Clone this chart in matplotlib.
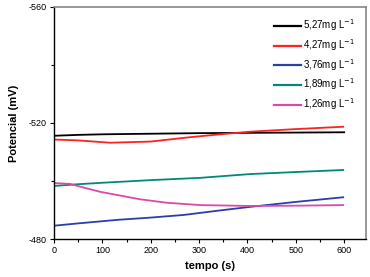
import matplotlib
matplotlib.use("Agg")
import matplotlib.pyplot as plt
from matplotlib.ticker import MultipleLocator

plt.rcParams['font.family'] = ['Liberation Sans', 'DejaVu Sans']
plt.rcParams['axes.unicode_minus'] = False

labels = ["5,27mg L$^{-1}$", "4,27mg L$^{-1}$", "3,76mg L$^{-1}$", "1,89mg L$^{-1}$", "1,26mg L$^{-1}$"]
colors = ["#000000", "#ff2020", "#2a3fa8", "#00897b", "#dc4aa8"]

t_black = [0, 50, 100, 200, 300, 400, 500, 600]
v_black = [-515.6, -515.9, -516.1, -516.3, -516.5, -516.6, -516.7, -516.8]

t_red = [0, 50, 116, 200, 281, 350, 406, 500, 598]
v_red = [-514.3, -514.0, -513.2, -513.6, -515.1, -516.2, -517.0, -517.9, -518.7]

t_blue = [0, 50, 130, 200, 268, 340, 406, 500, 598]
v_blue = [-484.6, -485.4, -486.6, -487.4, -488.3, -489.8, -491.1, -492.8, -494.4]

t_teal = [0, 50, 100, 199, 303, 406, 500, 598]
v_teal = [-498.3, -498.9, -499.4, -500.3, -501.1, -502.4, -503.1, -503.8]

t_pink = [0, 33, 60, 95, 130, 178, 234, 303, 406, 500, 598]
v_pink = [-499.3, -499.0, -497.8, -496.3, -495.2, -493.7, -492.5, -491.7, -491.4, -491.5, -491.7]

series = [(t_black, v_black), (t_red, v_red), (t_blue, v_blue), (t_teal, v_teal), (t_pink, v_pink)]

fig = plt.figure(figsize=(3.7, 2.77), dpi=100)
ax = fig.add_axes([0.146, 0.137, 0.843, 0.838])

for (t, v), c, lab in zip(series, colors, labels):
    ax.plot(t, v, color=c, lw=1.3, label=lab)

ax.set_xlim(0, 645)
ax.set_ylim(-480, -560)
ax.xaxis.set_major_locator(MultipleLocator(100))
ax.xaxis.set_minor_locator(MultipleLocator(50))
ax.yaxis.set_major_locator(MultipleLocator(40))
ax.yaxis.set_minor_locator(MultipleLocator(20))
ax.tick_params(axis='both', which='major', labelsize=6.5, direction='out', length=3, width=0.8, pad=2)
ax.tick_params(axis='both', which='minor', direction='out', length=2, width=0.8)

for s in ['top', 'right']:
    ax.spines[s].set_color('#888888')
    ax.spines[s].set_linewidth(1.2)
for s in ['left', 'bottom']:
    ax.spines[s].set_linewidth(1.0)

ax.set_xlabel("tempo (s)", fontsize=8, fontweight='bold', labelpad=4)
ax.set_ylabel("Potencial (mV)", fontsize=8, fontweight='bold', labelpad=7)

leg = ax.legend(loc='upper right', frameon=False, fontsize=7, handlelength=2.8,
                handletextpad=0.2, labelspacing=0.4, borderaxespad=0.7)
for line in leg.get_lines():
    line.set_linewidth(1.6)

fig.savefig("out.png", dpi=100)
